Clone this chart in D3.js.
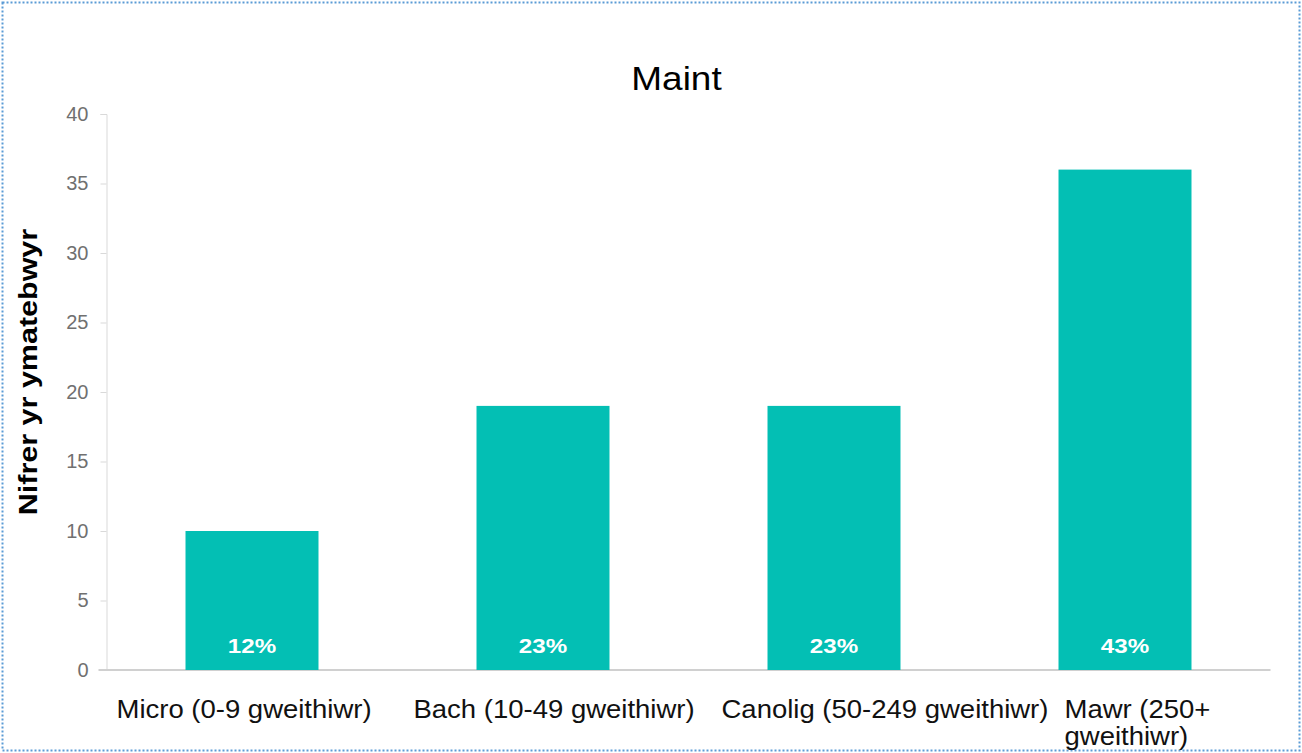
<!DOCTYPE html>
<html><head><meta charset="utf-8">
<script src="https://cdn.jsdelivr.net/npm/d3@7"></script>
<style>
html,body{margin:0;padding:0;background:#fff;}
svg{display:block;font-family:"Liberation Sans",Arial,sans-serif;}
</style></head>
<body><svg id="chart" width="1302" height="753"></svg>
<script>
const categories = ["Micro (0-9 gweithiwr)", "Bach (10-49 gweithiwr)", "Canolig (50-249 gweithiwr)", "Mawr (250+ gweithiwr)"];
const values = [10, 19, 19, 36];
const percentLabels = ["12%", "23%", "23%", "43%"];
const yTicks = [0, 5, 10, 15, 20, 25, 30, 35, 40];
const title = "Maint";
const yTitle = "Nifrer yr ymatebwyr";

const svg = d3.select("#chart");
const W = 1302, H = 753;
const m = {left: 106.5, right: 1270.5, top: 114, bottom: 670};

// place text at (x,y) with a horizontal stretch
function stretched(parent, x, y, sx, rot) {
  return parent.append("text").attr("transform", `translate(${x},${y})${rot ? " rotate(" + rot + ")" : ""} scale(${sx},1)`);
}

// outer dotted frame
svg.append("rect").attr("x", 2.5).attr("y", 2.5).attr("width", W - 5).attr("height", H - 5)
  .attr("fill", "none").attr("stroke", "#5b9bd5").attr("stroke-width", 2).attr("stroke-dasharray", "2,2");

const x = d3.scaleBand().domain(categories).range([m.left, m.right]).paddingInner(0.543).paddingOuter(0.2715);
const y = d3.scaleLinear().domain([0, 40]).range([m.bottom, m.top]);

// y axis
const yAxis = svg.append("g").attr("transform", `translate(${m.left},0)`)
  .call(d3.axisLeft(y).tickValues(yTicks).tickSize(6).tickPadding(12));
yAxis.select(".domain").attr("stroke", "#d9d9d9");
yAxis.selectAll(".tick line").attr("stroke", "#d9d9d9");
yAxis.selectAll(".tick text").attr("fill", "#707070").attr("font-size", 20).attr("font-family", "Liberation Sans, Arial, sans-serif");

// baseline
svg.append("line").attr("x1", m.left - 8).attr("x2", m.right).attr("y1", y(0)).attr("y2", y(0))
  .attr("stroke", "#d0d0d0").attr("stroke-width", 2);

// bars
svg.selectAll(".bar").data(categories).enter().append("rect")
  .attr("x", d => x(d)).attr("y", (d, i) => y(values[i]))
  .attr("width", x.bandwidth()).attr("height", (d, i) => y(0) - y(values[i]))
  .attr("fill", "#03bfb4");

// percent labels
categories.forEach((c, i) => {
  stretched(svg, x(c) + x.bandwidth() / 2, y(0) - 17, 1.15)
    .attr("text-anchor", "middle").attr("fill", "#fff").attr("font-weight", "bold").attr("font-size", 21)
    .text(percentLabels[i]);
});

// category labels (Excel-style placement)
const labelDx = [-69, -63, -46, 6];
const labelLines = [[categories[0]], [categories[1]], [categories[2]], ["Mawr (250+", "gweithiwr)"]];
categories.forEach((c, i) => {
  const t = stretched(svg, x(c) + labelDx[i], 718, 1.1)
    .attr("fill", "#111").attr("font-size", 25);
  labelLines[i].forEach((ln, j) => {
    t.append("tspan").attr("x", 0).attr("dy", j === 0 ? 0 : 27).text(ln);
  });
});

// title
stretched(svg, 676.5, 90, 1.12).attr("text-anchor", "middle")
  .attr("font-size", 33).attr("fill", "#000").text(title);

// y title
stretched(svg, 37, 372, 1.22, -90)
  .attr("text-anchor", "middle").attr("font-size", 25).attr("font-weight", "bold").attr("fill", "#000")
  .text(yTitle);
</script></body></html>
